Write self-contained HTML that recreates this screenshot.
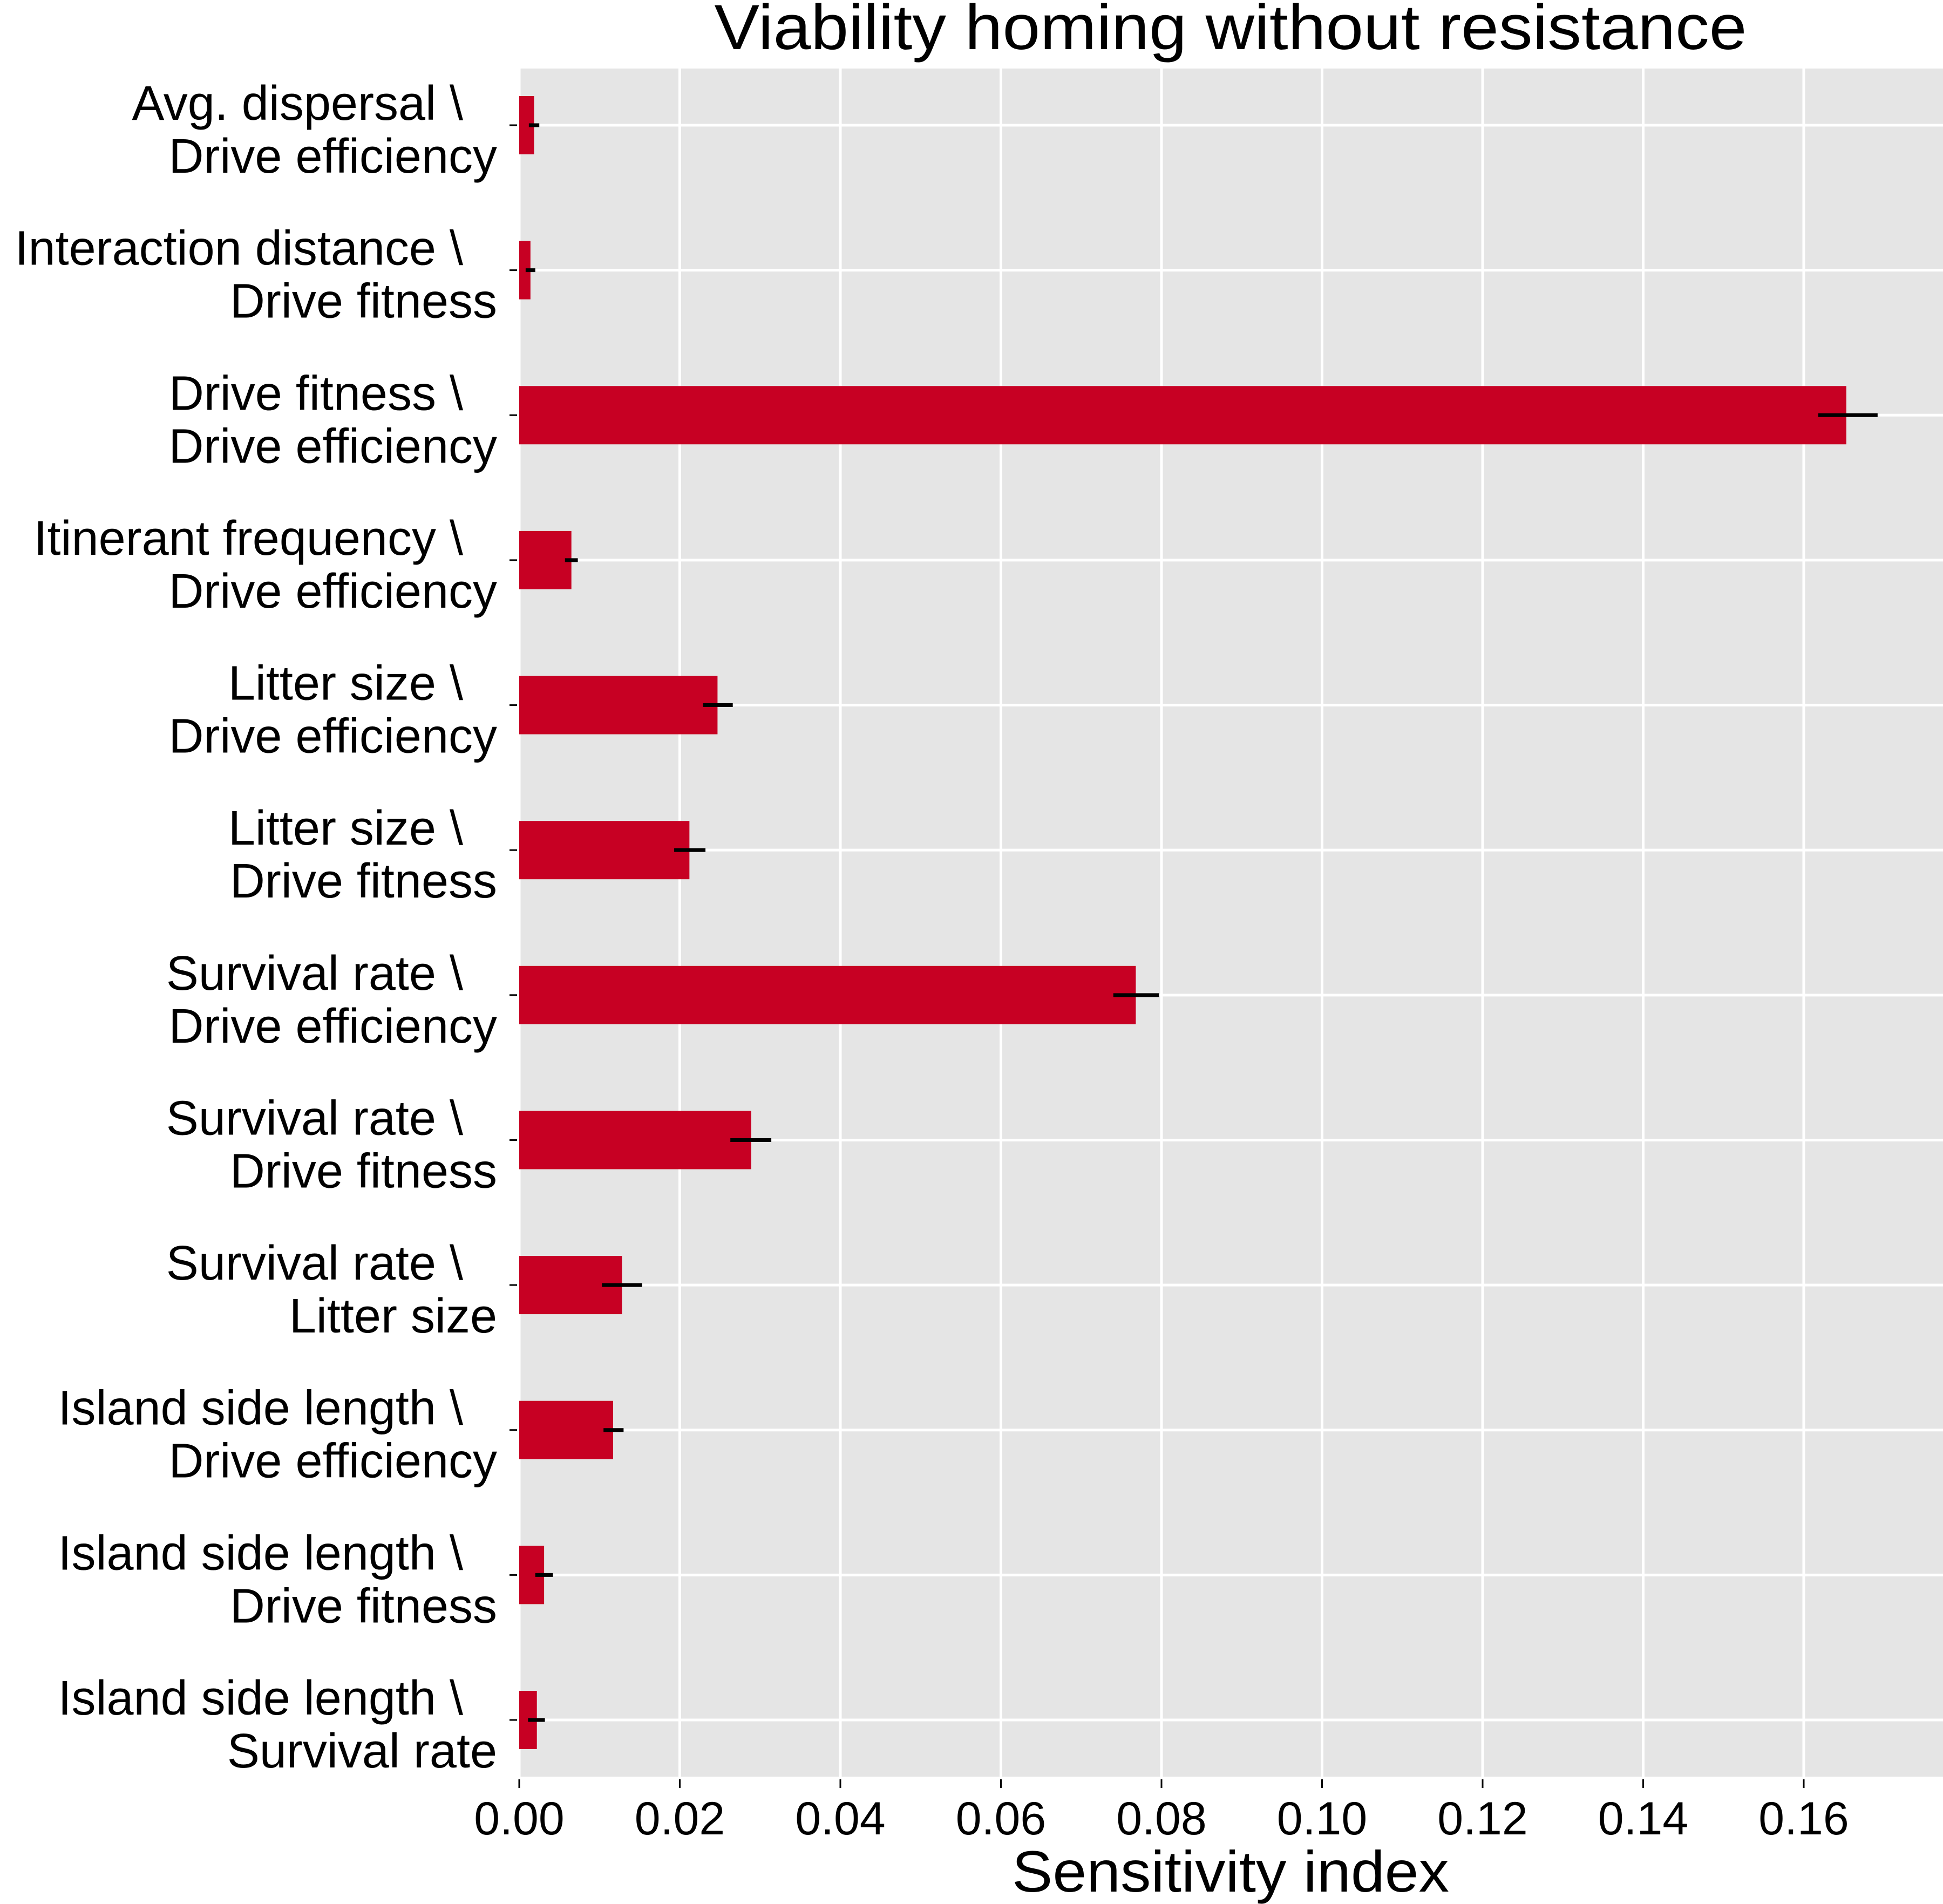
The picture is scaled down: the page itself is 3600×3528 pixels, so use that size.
<!DOCTYPE html>
<html><head><meta charset="utf-8"><style>
html,body{margin:0;padding:0;background:#fff;}
svg{display:block;font-family:"Liberation Sans",sans-serif;}
</style></head><body>
<svg id="chart" width="3600" height="3528" viewBox="0 0 3600 3528" xmlns="http://www.w3.org/2000/svg">
<rect x="962" y="127" width="2638" height="3165" fill="#e5e5e5"/>
<g id="grid"></g>
<g id="bars"></g>
<g id="ylabels"></g>
<g id="xlabels"></g>
<text x="2280" y="91" font-size="118" text-anchor="middle" textLength="1913" lengthAdjust="spacingAndGlyphs">Viability homing without resistance</text>
<text x="2280" y="3505" font-size="108" text-anchor="middle" textLength="810" lengthAdjust="spacingAndGlyphs">Sensitivity index</text>
</svg>
<script>
const labels1 = ["Avg. dispersal \\","Interaction distance \\","Drive fitness \\","Itinerant frequency \\","Litter size \\","Litter size \\","Survival rate \\","Survival rate \\","Survival rate \\","Island side length \\","Island side length \\","Island side length \\"];
const labels2 = ["Drive efficiency","Drive fitness","Drive efficiency","Drive efficiency","Drive efficiency","Drive fitness","Drive efficiency","Drive fitness","Litter size","Drive efficiency","Drive fitness","Survival rate"];
const values = [0.00185,0.0014,0.1653,0.0065,0.0247,0.0212,0.0768,0.0289,0.0128,0.0117,0.0031,0.0022];
const errLo = [0.0012,0.0008,0.1618,0.0057,0.0229,0.0193,0.0740,0.0263,0.0103,0.0105,0.0020,0.0011];
const errHi = [0.0025,0.0020,0.1692,0.0073,0.0266,0.0232,0.0797,0.0314,0.0153,0.0130,0.0042,0.0032];
const xTicks = [0,0.02,0.04,0.06,0.08,0.10,0.12,0.14,0.16];
const xTickLabels = ["0.00","0.02","0.04","0.06","0.08","0.10","0.12","0.14","0.16"];

const NS="http://www.w3.org/2000/svg";
const X0=962, PX=14875;
function xs(v){return X0+v*PX;}
const TOP=127, BOT=3292, PAD=105;
const step=(BOT-TOP-2*PAD)/(values.length-1);
function ys(i){return TOP+PAD+i*step;}
function mk(tag,attrs,parent){const e=document.createElementNS(NS,tag);for(const k in attrs)e.setAttribute(k,attrs[k]);parent.appendChild(e);return e;}
const grid=document.getElementById('grid'),bars=document.getElementById('bars'),yl=document.getElementById('ylabels'),xl=document.getElementById('xlabels');
xTicks.forEach((t,i)=>{
  const l=mk('line',{x1:xs(t),x2:xs(t),y1:TOP,y2:BOT,stroke:'#fff','stroke-width':5},grid);
  
  
  const tk=mk('line',{x1:xs(t),x2:xs(t),y1:3297,y2:3313,stroke:'#000','stroke-width':3},xl);
  
  
  const tx=mk('text',{x:xs(t),y:3399,'font-size':86,'text-anchor':'middle'},xl);
  
  
  tx.textContent=xTickLabels[i];
});
values.forEach((v,i)=>{
  const y=ys(i);
  const g=mk('line',{x1:X0,x2:3600,y1:y,y2:y,stroke:'#fff','stroke-width':5},grid);
  
  
  const b=mk('rect',{x:xs(0),y:y-54,width:xs(v)-xs(0),height:108,fill:'#c70023'},bars);
  
  
  const e=mk('line',{x1:xs(errLo[i]),x2:xs(errHi[i]),y1:y,y2:y,stroke:'#000','stroke-width':7},bars);
  
  
  const tk=mk('line',{x1:944,x2:958,y1:y,y2:y,stroke:'#000','stroke-width':3},yl);
  
  
  const t1=mk('text',{x:858,y:y-10,'font-size':90,'text-anchor':'end'},yl);
  
  
  t1.textContent=labels1[i];
  const t2=mk('text',{x:921,y:y+88,'font-size':90,'text-anchor':'end'},yl);
  
  
  t2.textContent=labels2[i];
});
</script>
</body></html>
